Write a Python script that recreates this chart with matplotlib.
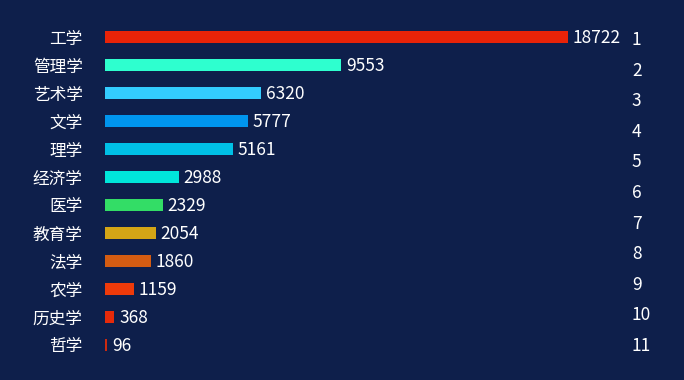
import matplotlib
matplotlib.use("Agg")
import matplotlib.pyplot as plt

plt.rcParams['font.family'] = ['Noto Sans CJK SC', 'DejaVu Sans']

categories = ["工学", "管理学", "艺术学", "文学", "理学", "经济学", "医学", "教育学", "法学", "农学", "历史学", "哲学"]
values = [18722, 9553, 6320, 5777, 5161, 2988, 2329, 2054, 1860, 1159, 368, 96]
colors = ["#e82308", "#2effcf", "#33ccff", "#0095ee", "#00c0e6", "#00e6da",
          "#33dd66", "#d4a516", "#d45c12", "#ee3a0a", "#e62a0a", "#cc2a10"]
rank_labels = [str(i) for i in range(1, 12)]

bg = "#0e1f4b"
W, H = 684, 380
fig = plt.figure(figsize=(W / 100, H / 100), dpi=100, facecolor=bg)
left_px, right_px, top_px, bottom_px = 105, 568, 23, 359
ax = fig.add_axes([left_px / W, (H - bottom_px) / H, (right_px - left_px) / W, (bottom_px - top_px) / H])
ax.set_facecolor(bg)

n = len(categories)
ypos = list(range(n))
ax.barh(ypos, values, height=12 / 28, color=colors)
ax.set_xlim(0, max(values))
ax.set_ylim(n - 0.5, -0.5)
for s in ax.spines.values():
    s.set_visible(False)
ax.set_xticks([])
ax.set_yticks(ypos)
ax.set_yticklabels(categories, color="white", fontsize=12)
ax.tick_params(axis="y", length=0, pad=16)

for y, v in zip(ypos, values):
    ax.annotate(str(v), xy=(v, y), xytext=(3.5, -1), textcoords="offset points",
                va="center", ha="left", color="white", fontsize=12.5, annotation_clip=False)

# right-side rank axis with 11 categories spanning the same height
ax2 = ax.twinx()
m = len(rank_labels)
ax2.set_ylim(m - 0.5, -0.5)
ax2.set_yticks(list(range(m)))
ax2.set_yticklabels(rank_labels, color="white", fontsize=12.5)
ax2.tick_params(axis="y", length=0, pad=46)
for s in ax2.spines.values():
    s.set_visible(False)
ax2.set_xticks([])

fig.savefig("out.png", dpi=100, facecolor=bg)
